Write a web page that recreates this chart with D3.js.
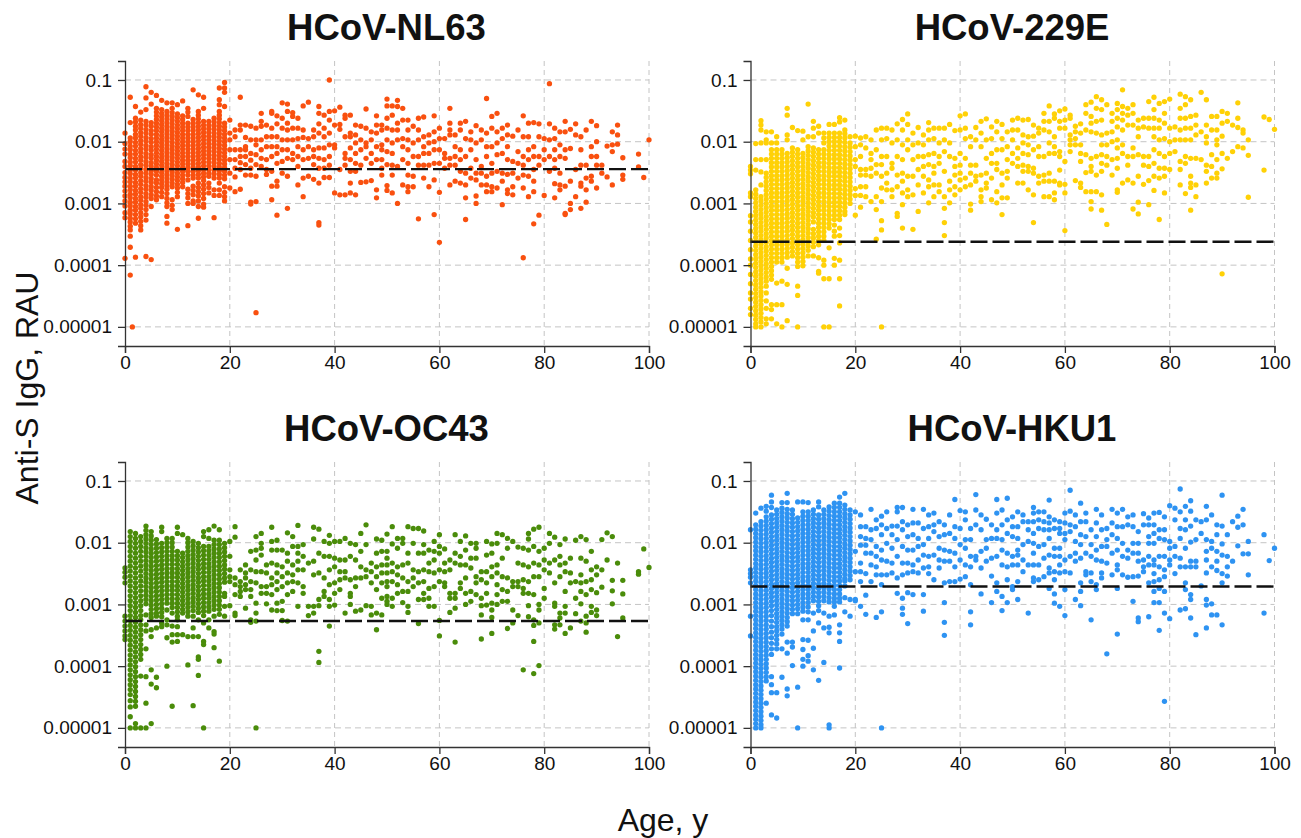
<!DOCTYPE html>
<html>
<head>
<meta charset="utf-8">
<script src="https://cdn.jsdelivr.net/npm/d3@7"></script>
<style>
  html, body { margin: 0; padding: 0; background: #fff; }
  text { font-family: "Liberation Sans", Arial, sans-serif; fill: #111; }
</style>
</head>
<body>
<svg id="chart" width="1301" height="838"></svg>
<script>
// Values. Each row is [age, [-100*log10(RAU), ...]], so 200 = 0.01, 500 = 0.00001
const ageTicks = [0, 20, 40, 60, 80, 100];
const rauTicks = [0.1, 0.01, 0.001, 0.0001, 0.00001];
const rauLabels = ["0.1", "0.01", "0.001", "0.0001", "0.00001"];

const nl63Rows = [
  [0, [186,203,212,220,232,240,250,258,265,272,280,288,296,304,315,323,389]],
  [1, [128,169,194,200,207,213,220,226,233,239,246,252,259,265,272,278,285,291,298,304,311,317,324,330,337,343,353,371,416]],
  [1.4, [500]],
  [2, [143,162,168,175,181,188,194,201,207,214,220,227,233,240,246,253,259,266,272,279,285,292,298,305,311,318,325,332,387]],
  [3, [152,165,172,178,185,191,198,204,211,217,224,230,237,243,250,256,263,269,276,282,289,295,302,308,315,322,329,336,343]],
  [4, [111,129,148,167,173,180,186,193,199,206,212,219,225,232,238,245,251,258,264,271,277,284,290,297,303,310,318,327,386]],
  [5, [120,139,169,175,182,188,195,201,208,214,221,227,234,240,247,253,260,266,273,279,286,292,305,391]],
  [6, [125,146,152,158,164,170,176,182,188,194,200,206,212,218,224,230,236,242,248,254,262,267,274,281,288,294]],
  [7, [133,148,154,160,166,172,178,184,190,196,202,208,214,220,226,232,238,244,250,256,262,268,274,282,289]],
  [8, [137,151,157,163,169,175,181,187,193,199,205,211,217,223,229,235,241,247,253,259,265,271,277,284,292,299,305,321,332]],
  [9, [137,146,153,159,165,171,177,183,189,195,201,207,213,219,225,231,237,243,249,255,261,267,273,294,303,310]],
  [10, [140,155,161,167,173,179,185,191,197,203,209,215,221,227,233,239,245,251,257,263,269,275,282,289,342]],
  [11, [134,158,164,170,176,182,188,194,200,206,212,218,224,230,236,242,248,254,260,266,273]],
  [12, [146,152,159,170,176,182,188,194,200,206,212,218,224,230,236,242,248,254,262,277,284,291,300,336]],
  [13, [116,164,170,176,182,188,194,200,206,212,218,224,230,236,242,248,254,259,272,279,286,296,300]],
  [14, [124,151,157,163,169,175,181,187,193,199,205,211,217,223,229,235,241,247,253,259,267,274,281,288,296,305,324]],
  [15, [128,146,167,173,179,185,191,197,203,209,215,221,227,233,239,245,251,257,263,270,277,284,292,301,306]],
  [16, [167,173,179,185,191,197,203,209,215,221,227,233,239,245,251,256,267,274,283]],
  [17, [162,168,174,180,186,192,198,204,210,216,222,228,234,240,246,252,259,278,287,323]],
  [18, [113,132,140,151,157,163,169,175,181,187,193,199,205,211,217,223,229,235,241,247,253,259,267,278,287]],
  [19, [104,113,120,143,170,176,182,188,194,200,206,212,218,224,230,236,242,248,254,260,273,282,289,296]],
  [20, [165,186,197,213,229,251,275]],
  [21, [181,192,213,229,243,257,281]],
  [22, [128,173,181,213,224,234,245,277]],
  [23, [173,193,208,213,224,237,254]],
  [24, [175,197,219,230,243,254,298,301]],
  [25, [178,197,205,221,237,256,297,477]],
  [26, [154,167,175,197,213,227,240]],
  [27, [173,192,208,229,245,253]],
  [28, [151,154,178,192,208,224,248,272,294]],
  [29, [158,171,192,208,219,235,264,272,319]],
  [30, [137,162,178,197,213,232,251]],
  [31, [139,151,170,181,197,213,227,256,308]],
  [32, [153,159,178,197,219,229]],
  [33, [162,178,195,208,224,240,270]],
  [34, [142,181,193,213,229,259,289]],
  [35, [136,195,208,227,256]],
  [36, [181,192,213,224,237,261]],
  [37, [143,154,171,186,210,227,243,267,331,335]],
  [38, [157,178,192,210,229,243,258]],
  [39, [100,151,165,186,205,224,238,258]],
  [40, [150,173,205,210,283]],
  [41, [144,172,180,245,286]],
  [42, [157,162,192,219,227,238,286]],
  [43, [157,186,192,210,229,248,267,283]],
  [44, [173,189,202,219,235,248,286]],
  [45, [175,197,213,238,266]],
  [46, [147,178,202,208,227,265]],
  [47, [184,197,219,235,263]],
  [48, [158,173,186,208,229,278,291]],
  [49, [173,181,205,213,229,243,254]],
  [50, [131,142,162,178,197,216,237,271,279]],
  [51, [142,157,181,202,219,238,254,283]],
  [52, [133,143,170,181,197,240,300]],
  [53, [146,165,195,208,229,270]],
  [54, [165,181,197,213,235,254,273,281]],
  [55, [175,202,224,256,273]],
  [56, [162,181,197,224,238,325]],
  [57, [160,192,208,219,238,259]],
  [58, [189,202,219,238,273]],
  [59, [158,184,200,213,235,262,318]],
  [60, [178,195,213,235,282,363]],
  [61, [195,219,227,243]],
  [62, [146,170,181,189,227,238,270]],
  [63, [189,208,224,238,264]],
  [64, [170,181,213,229,248,267]],
  [65, [167,195,224,251,270,291,326]],
  [66, [184,197,213,243,259]],
  [67, [174,202,229,251,262,288,300]],
  [68, [181,197,240,251,270]],
  [69, [130,186,208,224,256,270,281]],
  [70, [159,178,208,235,251,273,281]],
  [71, [154,184,202,221,248,275]],
  [72, [178,195,219,251,264,302]],
  [73, [173,189,208,229,253,278,284]],
  [74, [191,232,251,273,286]],
  [75, [181,216,235,259]],
  [76, [158,192,224,238,254,275,388]],
  [77, [170,192,213,229,256,289]],
  [78, [169,208,224,245,264,281,333]],
  [79, [171,192,224,238,319]],
  [80, [195,213,229,287]],
  [81, [106,171,197,224,248]],
  [82, [178,195,213,229,243,268,291]],
  [83, [184,205,224,251,270,278]],
  [84, [167,184,213,227,272,316,318]],
  [85, [180,211,264,300,310]],
  [86, [171,189,245,289]],
  [87, [192,213,238,267,272,308]],
  [88, [181,238,259,278,298]],
  [89, [167,208,224,256,264]],
  [90, [174,200,224,238,275]],
  [91, [238,251]],
  [92, [207,257]],
  [93, [184,205,216,270]],
  [94, [173,189,204]],
  [95, [226,254,261]],
  [98, [220,241]],
  [99, [258]],
  [100, [197]]
];

const e229Rows = [
  [0, [240,246,252,283,289,320,330,345,360,375,390,400,415,430,445,455,470,480]],
  [1, [203,229,246,278,285,292,299,306,313,320,327,334,341,348,355,362,369,376,383,390,397,404,411,418,425,432,439,446,453,460,467,474,481,488,495,500]],
  [2, [166,173,181,202,229,249,270,289,296,303,310,317,324,331,338,345,352,359,366,373,380,387,394,401,408,415,422,429,436,443,450,457,464,471,478,485,492,500]],
  [3, [184,197,202,229,251,258,265,272,279,286,293,300,307,314,321,328,335,342,349,356,363,370,377,384,391,398,405,412,419,426,434,445,458,470,487,495]],
  [4, [184,202,213,220,227,234,241,248,255,262,269,276,283,290,297,304,311,318,325,332,339,346,353,360,367,374,381,388,395,402,409,416,423,464,472,487]],
  [5, [192,202,213,220,227,234,241,248,255,262,269,276,283,290,297,304,311,318,325,332,339,346,353,360,367,374,381,388,395,429,464,495]],
  [6, [213,220,227,234,241,248,255,262,269,276,283,290,297,304,311,318,325,332,339,346,353,360,367,374,381,388,395,426,464,500]],
  [7, [146,157,189,197,219,226,233,240,247,254,261,268,275,282,289,296,303,310,317,324,331,338,345,352,359,366,373,380,387,405,431,490]],
  [8, [177,210,217,224,231,238,245,252,259,266,273,280,287,294,301,308,315,322,329,336,343,350,357,364,371,378,385]],
  [9, [182,213,220,227,234,241,248,255,262,269,276,283,290,297,304,311,318,325,332,339,346,353,360,367,374,381,388,395,402,434,449,500]],
  [10, [183,197,219,226,233,240,247,254,261,268,275,282,289,296,303,310,317,324,331,338,345,352,359,366,373,380,387,394,401]],
  [11, [139,192,208,215,222,229,236,243,250,257,264,271,278,285,292,299,306,313,320,327,334,341,348,355,362,369,376,385]],
  [12, [167,178,192,210,217,224,231,238,245,252,259,266,273,280,287,294,301,308,315,322,330,342,349,356,363,370,385]],
  [13, [175,186,213,220,227,234,241,248,255,262,269,276,283,290,297,304,311,318,325,332,339,346,353,360,367,388,410,413]],
  [14, [186,194,202,213,220,227,234,241,248,255,262,269,276,283,290,297,304,311,318,325,332,339,346,353,360,392,400,422,500]],
  [15, [172,186,193,200,207,214,221,228,235,242,249,256,263,270,277,284,291,298,305,312,319,326,333,340,372,422,500]],
  [16, [172,186,193,200,207,214,221,228,235,242,249,256,263,270,277,284,291,298,305,312,319,326,335,345,353,389,400]],
  [17, [161,168,186,193,200,207,214,221,228,235,242,249,256,263,270,277,284,291,298,305,312,319,326,340,352,364,392,422,466]],
  [18, [165,181,187,194,201,208,215,222,229,236,243,250,257,264,271,278,285,292,299,306,313,318]],
  [19, [192,202,209,216,223,230,237,244,251,258,265,272,279,286,293,300]],
  [20, [191,208,229,240,276,287,319]],
  [21, [194,205,224,245,254,273,287,306]],
  [22, [192,210,245,254,273,289]],
  [23, [197,219,229,243,256,297]],
  [24, [181,213,237,251,289,310,358]],
  [25, [178,197,224,237,256,275,297,328,343,500]],
  [26, [178,195,224,251,267,278]],
  [27, [181,202,235,243,278,289]],
  [28, [171,197,224,254,273,316,321]],
  [29, [164,181,205,229,251,264,283,302,340]],
  [30, [155,172,197,213,256,278,289]],
  [31, [186,205,229,256,286,342]],
  [32, [177,202,224,245,270,313]],
  [33, [189,205,224,240,256,283]],
  [34, [169,181,197,221,237,262,273,299]],
  [35, [178,195,219,240,251,270,289]],
  [36, [178,202,224,235,270,281]],
  [37, [178,197,216,248,289,308,331,352]],
  [38, [172,202,224,264,278,299]],
  [39, [182,227,240,254,273,286]],
  [40, [158,181,219,238,251,262,278]],
  [41, [155,178,195,227,259,273]],
  [42, [192,208,238,251,270,301,311]],
  [43, [177,197,238,256,264]],
  [44, [167,186,208,254,278,289,297]],
  [45, [163,197,227,251,267,275]],
  [46, [176,195,219,235,259,294]],
  [47, [167,184,213,235,245,281,299]],
  [48, [172,195,213,251,270,291,318]],
  [49, [184,208,229,248,259,291]],
  [50, [165,181,197,219,235]],
  [51, [162,181,210,227,240,267]],
  [52, [165,189,202,219,238,248,267]],
  [53, [164,192,205,221,240,248,278]],
  [54, [173,191,213,243,251,286,331]],
  [55, [178,186,208,224,256,267]],
  [56, [154,167,181,224,254,264,289]],
  [57, [142,167,184,202,219,251,264,289]],
  [58, [155,162,192,208,219,264,283,294]],
  [59, [150,167,178,216,224,246,267,270]],
  [60, [147,165,178,232,269,283,344]],
  [61, [157,162,189,197,205,216]],
  [62, [175,184,195,205,263]],
  [63, [171,186,205,219,232,267,274]],
  [64, [140,154,181,221,250,281]],
  [65, [136,159,170,184,227,240,248,281,297,309]],
  [66, [127,146,167,186,224,254,281]],
  [67, [132,148,165,189,205,221,235,248,286,311]],
  [68, [140,186,205,224,238,334]],
  [69, [154,167,184,200,229,254]],
  [70, [138,148,162,176,197,210,227,243,278,282]],
  [71, [116,143,154,165,181,205,219,267]],
  [72, [146,157,173,224,238,262]],
  [73, [140,154,173,210,224,267,309]],
  [74, [165,178,192,221,256,298,317]],
  [75, [162,176,224,238,269]],
  [76, [135,162,178,224,240,263,302]],
  [77, [128,148,162,178,192,213,235,256,279]],
  [78, [138,165,178,197,219,243,259,326]],
  [79, [135,154,170,195,224,243,256,283]],
  [80, [131,178,200,219,245]],
  [81, [176,197,216]],
  [82, [123,146,162,181,197,232,245,270]],
  [83, [127,140,162,178,197,224,235,284]],
  [84, [132,159,178,197,227,256,267,274,311]],
  [85, [157,173,189,227,270,289]],
  [86, [120,184,229]],
  [87, [132,173,192,202,238,248,267]],
  [88, [159,181,221,240,259]],
  [89, [159,181,197,205,229,251,259]],
  [90, [151,170,191,219,244,414]],
  [91, [154,167,227]],
  [92, [173,216]],
  [93, [137,162,177,208]],
  [94, [181,186,210]],
  [95, [197,222,290]],
  [98, [160,246]],
  [99, [164]],
  [100, [180]]
];

const oc43Rows = [
  [0, [241,248,256,265,319,327,335,343,351,357]],
  [1, [182,190,198,206,214,222,230,238,246,254,262,270,278,286,294,302,310,318,326,334,342,350,358,366,374,382,390,398,406,414,422,430,438,446,456,466,482,500]],
  [2, [185,193,201,209,217,225,233,241,249,257,265,273,281,289,297,305,313,321,329,337,345,353,361,369,377,385,393,401,409,417,425,433,441,449,457,465,493,500]],
  [3, [190,198,206,214,222,230,238,246,254,262,270,278,286,294,302,310,318,325,333,341,349,357,365,373,381,389,416,500]],
  [4, [173,180,187,194,201,208,215,222,229,236,243,250,257,264,271,278,285,292,299,317,333,343,372,417,460,500]],
  [5, [182,189,196,203,210,217,224,231,238,245,252,259,266,273,280,287,294,301,308,315,321,341,352,406,429,493]],
  [6, [195,202,209,216,223,230,237,244,251,258,265,272,279,286,293,300,307,314,319,338,418,435]],
  [7, [175,182,201,208,215,222,229,236,243,250,257,264,271,278,285,292,299,306,313,320,330,336]],
  [8, [193,200,207,214,221,228,235,242,249,256,263,270,277,284,291,298,309,325,333,354,400]],
  [9, [193,200,207,214,221,228,235,242,249,256,263,270,277,284,291,298,305,314,335,349,361,465]],
  [10, [175,185,214,221,228,235,242,249,256,263,270,277,284,291,298,305,312,319,325,336,349,360]],
  [11, [187,217,224,231,238,245,252,259,266,273,280,287,294,301,308,314,349]],
  [12, [193,200,207,214,221,228,235,242,249,256,263,270,277,284,291,298,305,312,319,352,398]],
  [13, [198,205,212,219,226,233,240,247,254,261,268,275,282,289,296,303,310,319,338,352,464]],
  [14, [201,208,215,222,229,236,243,250,257,264,271,278,285,292,299,306,313,325,352,385,389,415]],
  [15, [182,190,206,213,220,227,234,241,248,255,262,269,276,283,290,297,304,311,318,330,360,365,500]],
  [16, [179,193,206,213,220,227,234,241,248,255,262,269,276,283,290,297,304,311,325,338]],
  [17, [173,196,203,210,217,224,231,238,245,252,259,266,273,280,287,294,301,308,319,344,348,370]],
  [18, [179,196,203,210,217,224,231,238,245,252,259,266,273,280,287,294,301,308,316,392]],
  [19, [201,208,215,222,229,236,243,250,257,264,282,287,303,319]],
  [20, [198,222,244,255,263,302]],
  [21, [174,191,257,268,284,314,318]],
  [22, [244,263,271,279,287]],
  [23, [236,249,257,268,276,306]],
  [24, [214,244,263,276,287,325,329]],
  [25, [190,212,228,247,265,298,314,327,500]],
  [26, [185,201,209,220,247,271,282]],
  [27, [236,249,271,282,299]],
  [28, [175,198,212,233,257,268,284,309]],
  [29, [196,212,236,249,263,276,298,310]],
  [30, [212,239,255,271,295,310,326]],
  [31, [184,217,230,249,265,284,327]],
  [32, [190,206,236,252,263,279]],
  [33, [172,206,217,230,244,265,303]],
  [34, [203,222,244,271,282]],
  [35, [233,303,318]],
  [36, [175,194,230,252,303,314]],
  [37, [178,217,249,292,302,376,394]],
  [38, [198,222,257,279,287]],
  [39, [188,201,222,244,268,292,303,335]],
  [40, [198,225,239,265,282,301]],
  [41, [198,228,247,260,276]],
  [42, [193,228,247,257,314]],
  [43, [201,222,260,282,287,300]],
  [44, [203,228,257,271,311]],
  [45, [185,214,239,257,309]],
  [46, [171,203,244,255,302]],
  [47, [233,247,265,303,317]],
  [48, [194,217,239,255,276,314,341]],
  [49, [196,214,236,249,265,290,317]],
  [50, [186,214,225,236,249,263,271,287,295,300]],
  [51, [174,202,233,247,263,290,303]],
  [52, [193,209,239,252,268,282]],
  [53, [193,201,236,257,279,297]],
  [54, [174,217,233,263,279,303,313]],
  [55, [177,201,244,257,271]],
  [56, [177,217,247,265,292,331]],
  [57, [181,203,217,244,263,282,292]],
  [58, [212,233,247,274,290,303]],
  [59, [198,214,228,249,271,303]],
  [60, [187,206,217,244,263,326,351]],
  [61, [210,233,247,265,271]],
  [62, [228,244,282,290,313]],
  [63, [187,217,233,282,290,306,361]],
  [64, [198,222,236,265,274]],
  [65, [189,212,236,257,282,300]],
  [66, [201,225,241,279,295]],
  [67, [201,209,225,255,265,284]],
  [68, [247,260,290,302,317,356]],
  [69, [198,220,247,265,282,301]],
  [70, [202,217,239,255,298,309,321,347]],
  [71, [185,201,236,249,268,284,300]],
  [72, [187,225,255,276,295]],
  [73, [193,209,257,279,295,339]],
  [74, [198,263,271,309,330]],
  [75, [207,233,263,271,318]],
  [76, [209,236,260,274,282,406]],
  [77, [185,194,212,239,263,282,302,320]],
  [78, [178,206,233,255,284,325,334,360,412]],
  [79, [175,214,236,255,300,309,330,399]],
  [80, [209,228,244,274,290]],
  [81, [185,201,233,249]],
  [82, [191,228,265,298,303,333,340]],
  [83, [203,222,236,255,314,322,333]],
  [84, [194,233,247,279,303,314,347]],
  [85, [225,249,265,338]],
  [86, [196,263,290,315]],
  [87, [190,225,252,265,279,299,327]],
  [88, [195,230,263,284,319,330,345]],
  [89, [214,244,260,276,303,313]],
  [90, [239,252,281,309,318]],
  [91, [195,244,272]],
  [92, [184,228]],
  [93, [190,261,278,299]],
  [94, [233,352]],
  [95, [261,283,322]],
  [98, [247,251]],
  [99, [210]],
  [100, [240]]
];

const hku1Rows = [
  [0, [179,244,250,256,265,319,351]],
  [1, [152,171,178,185,192,199,206,213,220,227,234,241,248,255,262,269,276,283,290,297,304,311,318,325,332,339,346,353,360,367,374,381,388,395,402,409,416,423,430,437,444,451,458,465,472,479,486,493,500]],
  [2, [144,166,173,180,187,194,201,208,215,222,229,236,243,250,257,264,271,278,285,292,299,306,313,320,327,334,341,348,355,362,369,376,383,390,397,404,411,418,425,432,439,446,453,460,467,474,481,488,495,500]],
  [3, [141,149,158,165,172,179,186,193,200,207,214,221,228,235,242,249,256,263,270,277,284,291,298,305,312,319,326,333,340,347,354,361,368,375,382,389,396,403,410,417,424,460]],
  [4, [123,134,143,155,162,169,176,183,190,197,204,211,218,225,232,239,246,253,260,267,274,281,288,295,302,310,318,327,336,345,354,363,372,381,417,430,443,479]],
  [5, [147,154,161,168,175,182,189,196,203,210,217,224,231,238,245,252,259,266,273,280,287,294,301,308,315,322,329,336,343,350,357,364,372,443,484]],
  [6, [135,144,151,158,165,172,179,186,193,200,207,214,221,228,235,242,249,256,263,270,277,284,291,298,305,312,319,326,333,340,348,372,418]],
  [7, [120,135,146,153,160,167,174,181,188,195,202,209,216,223,230,237,244,251,258,265,272,279,286,293,300,307,314,321,328,335,361,379,437,448]],
  [8, [147,154,161,168,175,182,189,196,203,210,217,224,231,238,245,252,259,266,273,280,287,294,301,308,315,361,369,399]],
  [9, [134,160,167,174,181,188,195,202,209,216,223,230,237,244,251,258,265,272,279,286,293,300,307,315,434,500]],
  [10, [134,150,157,164,171,178,185,192,199,206,213,220,227,234,241,248,255,262,269,276,283,290,297,304,311,325,357,373,389,400]],
  [11, [135,150,157,164,171,178,185,192,199,206,213,220,227,234,241,248,255,262,269,276,283,290,297,304,312,325,358,383,392]],
  [12, [147,154,161,168,175,182,189,196,203,210,217,224,231,238,245,252,259,266,273,280,287,294,314,343,371,406]],
  [13, [134,142,155,162,169,176,183,190,197,204,211,218,225,232,239,246,253,260,267,274,281,288,295,302,310,330,423]],
  [14, [147,154,161,168,175,182,189,196,203,210,217,224,231,238,245,252,259,266,273,280,287,294,314,338,394]],
  [15, [142,149,156,163,170,177,184,191,198,205,212,219,226,233,240,247,254,261,268,275,282,289,296,319,337,346,495,500]],
  [16, [136,143,150,157,164,171,178,185,192,199,206,213,220,227,234,241,248,255,262,269,276,283,290,296,303,317]],
  [17, [126,136,143,150,157,164,171,178,185,192,199,206,213,220,227,234,241,248,255,262,269,276,283,290,296,333,346,360,403]],
  [18, [120,139,146,153,160,167,174,181,188,195,202,209,216,223,230,237,244,251,258,262,270,289,312]],
  [19, [147,155,162,169,176,183,190,197,204,211,218,225,232,239,246,253,260,292,319]],
  [20, [150,214,247,292,294]],
  [21, [155,174,190,204,233,247,263,303]],
  [22, [174,193,204,217,250,285,316]],
  [23, [146,179,195,217,236,263]],
  [24, [163,177,206,222,239,252,321]],
  [25, [157,171,187,212,228,252,268,312,500]],
  [26, [150,177,201,230,252]],
  [27, [173,187,209,233,249]],
  [28, [143,150,173,195,222,257,282]],
  [29, [143,166,179,206,233,252,290,306,316]],
  [30, [171,190,212,233,249,281,331]],
  [31, [146,168,187,212,236,247,284]],
  [32, [168,193,206,228,249]],
  [33, [146,177,203,220,241,284,311]],
  [34, [155,174,193,222,239,250]],
  [35, [152,171,182,220,260]],
  [36, [166,190,209,228,241]],
  [37, [171,187,212,230,265,297,329,350]],
  [38, [155,185,214,230,263]],
  [39, [130,174,193,217,239,263]],
  [40, [148,177,203,228,259]],
  [41, [150,163,195,209,236,255]],
  [42, [177,195,222,239,268,312,333]],
  [43, [122,147,171,222,228]],
  [44, [155,179,214,241,283]],
  [45, [162,195,209,230]],
  [46, [171,193,225,254,297]],
  [47, [130,152,179,193,222,265,279]],
  [48, [147,171,195,212,236,287,310]],
  [49, [128,163,185,217,239,260,297]],
  [50, [158,174,190,222,236,271,276]],
  [51, [150,174,193,212,220,236,263,292]],
  [52, [155,166,203,228,247]],
  [53, [166,179,198,236,314]],
  [54, [143,152,166,185,201,217,236,257,263]],
  [55, [150,163,177,206,236,260]],
  [56, [150,166,179,203,225,255]],
  [57, [131,158,168,179,193,220,241,249,274]],
  [58, [163,177,209,222,247,260,283,298]],
  [59, [166,177,185,209,222,236,249,303]],
  [60, [152,168,185,195,228,247,276,318]],
  [61, [115,149,171,182,222,249]],
  [62, [155,174,198,217,230,292]],
  [63, [136,166,187,203,225,265,279,302]],
  [64, [152,166,190,217,247,252]],
  [65, [179,203,222,249,263,325]],
  [66, [146,168,190,212,228,268,276]],
  [67, [155,179,206,230,249,257]],
  [68, [177,195,206,233,380]],
  [69, [146,168,187,217,252]],
  [70, [152,174,193,212,236,244,274,348]],
  [71, [146,174,201,222,252]],
  [72, [158,171,212,225,256]],
  [73, [155,174,201,217,255,295]],
  [74, [182,201,217,230,254,322,328]],
  [75, [153,171,228,239,247]],
  [76, [160,171,190,201,222,236,265,320]],
  [77, [152,171,185,201,228,236,250,263,279,297]],
  [78, [151,179,193,222,239,260,274,297,342]],
  [79, [158,179,195,222,244,255,279,314,457]],
  [80, [140,198,209,228,236,323]],
  [81, [144,163,206,222,250]],
  [82, [113,150,177,193,225,239,309]],
  [83, [141,163,179,209,239,265,276,307]],
  [84, [132,149,173,199,230,239,284,292,322]],
  [85, [163,195,230,239,349]],
  [86, [166,185,270]],
  [87, [141,163,195,214,228,249,292,301,338]],
  [88, [155,198,209,239,299,317]],
  [89, [171,187,214,230,245,317]],
  [90, [123,173,202,220,250,265,333]],
  [91, [187,222,239,254]],
  [92, [166,230]],
  [93, [157,175,205]],
  [94, [146,171,218]],
  [95, [198,218,252]],
  [98, [187,314]],
  [99, [229]],
  [100, [209]]
];

const panelNames = ["HCoV-NL63", "HCoV-229E", "HCoV-OC43", "HCoV-HKU1"];
const panelRows = [nl63Rows, e229Rows, oc43Rows, hku1Rows];
const panelColors = ["#f9500f", "#ffd106", "#4a8c0a", "#2e93f2"];
const cutoffs = [0.0036, 0.00024, 0.00054, 0.00195];

const svg = d3.select("#chart");
const plotW = 524, plotH = 285;
const panelX = [125, 750.5];
const panelY = [61, 462];

const x = d3.scaleLinear().domain([0, 100]).range([0, plotW]);
const y = d3.scaleLog().domain([0.203, 0.0000049]).range([0, plotH]);

panelNames.forEach((name, i) => {
  const g = svg.append("g")
    .attr("transform", `translate(${panelX[i % 2]},${panelY[Math.floor(i / 2)]})`);

  // grid
  g.append("g").selectAll("line").data(ageTicks.slice(1)).join("line")
    .attr("x1", d => x(d)).attr("x2", d => x(d))
    .attr("y1", 0).attr("y2", plotH)
    .attr("stroke", "#c4c4c4").attr("stroke-dasharray", "5 4");
  g.append("g").selectAll("line").data(rauTicks).join("line")
    .attr("x1", 0).attr("x2", plotW)
    .attr("y1", d => y(d)).attr("y2", d => y(d))
    .attr("stroke", "#c4c4c4").attr("stroke-dasharray", "6 4");

  // points
  const points = panelRows[i].flatMap(([age, vals]) =>
    vals.map(v => ({ age: age, rau: Math.pow(10, -v / 100) })));
  g.append("g").selectAll("circle").data(points).join("circle")
    .attr("cx", d => x(d.age))
    .attr("cy", d => y(d.rau))
    .attr("r", 2.65)
    .attr("fill", panelColors[i]);

  // cutoff
  g.append("line")
    .attr("x1", 0).attr("x2", plotW)
    .attr("y1", y(cutoffs[i])).attr("y2", y(cutoffs[i]))
    .attr("stroke", "#111").attr("stroke-width", 2.4)
    .attr("stroke-dasharray", "17 5");

  // axes
  const xAxis = g.append("g").attr("transform", `translate(0,${plotH})`)
    .call(d3.axisBottom(x).tickValues(ageTicks).tickSize(7).tickPadding(3));
  const yAxis = g.append("g")
    .call(d3.axisLeft(y).tickValues(rauTicks).tickFormat((d, j) => rauLabels[j])
      .tickSize(7).tickPadding(6));
  [xAxis, yAxis].forEach(a => {
    a.selectAll("text").style("font-size", "19px").style("font-family", '"Liberation Sans", Arial, sans-serif').attr("fill", "#111");
    a.selectAll("path, line").attr("stroke", "#333").attr("stroke-width", 1.3);
  });

  g.append("text")
    .attr("x", plotW / 2 - 0.5).attr("y", -21)
    .attr("text-anchor", "middle")
    .style("font-size", "36.5px").style("font-weight", "bold")
    .text(name);
});

svg.append("text")
  .attr("transform", "translate(38,388) rotate(-90)")
  .attr("text-anchor", "middle")
  .style("font-size", "32px")
  .text("Anti-S IgG, RAU");

svg.append("text")
  .attr("x", 663).attr("y", 831)
  .attr("text-anchor", "middle")
  .style("font-size", "32px")
  .text("Age, y");
</script>
</body>
</html>
